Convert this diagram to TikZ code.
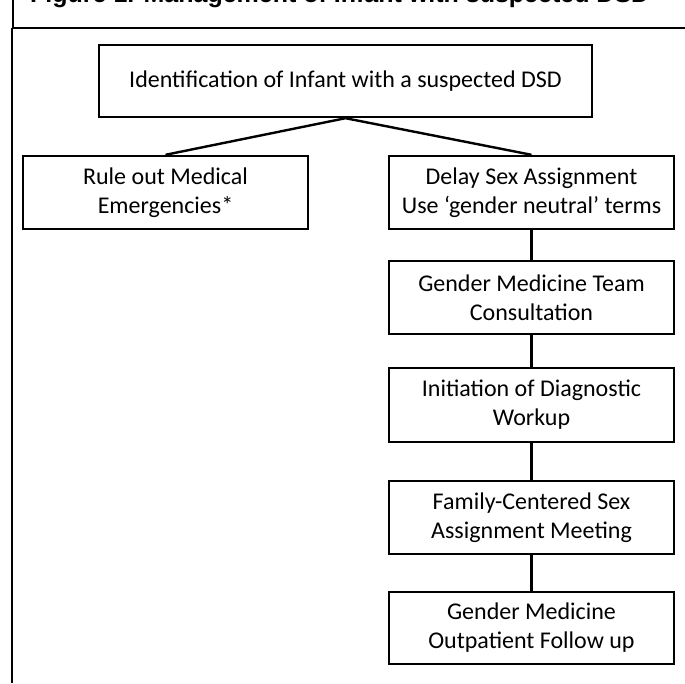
\documentclass[tikz,border=0pt]{standalone}
\usepackage{fontspec}
\setmainfont{Carlito}
\newfontfamily\headfont{Liberation Sans}
\begin{document}
\begin{tikzpicture}[x=1pt,y=-1pt,
  flowbox/.style={draw=black, line width=2.4pt, fill=white, align=center,
    minimum width=285pt, inner sep=0pt, font=\fontsize{24}{29}\selectfont},
  link/.style={draw=black, line width=2.4pt},
  frameline/.style={draw=black, line width=2pt}]
\useasboundingbox (0,0) rectangle (685,683);
\clip (0,0) rectangle (685,683);

% heading (runs off the top edge)
\node[anchor=base west, inner sep=0pt, font=\headfont\bfseries\fontsize{25}{30}\selectfont]
  (heading) at (30,2) {Figure 1. Management of Infant with suspected DSD};

% frame
\coordinate (frameTop) at (13,0);
\coordinate (frameJoin) at (13,28);
\coordinate (frameJoinLow) at (12,28);
\coordinate (frameBottom) at (12,683);
\coordinate (ruleRight) at (685,28);
\draw[frameline] (frameTop) -- (frameJoin);
\draw[frameline] (frameJoinLow) -- (frameBottom);
\draw[frameline] (frameJoinLow) -- (ruleRight);

% boxes
\node[flowbox, minimum width=493pt, minimum height=72pt] (ident) at (345.5,81)
  {Identification of Infant with a suspected DSD};
\node[flowbox, minimum height=73pt] (rule) at (165.5,192.5)
  {Rule out Medical\\Emergencies*};
\node[flowbox, minimum height=73pt] (delay) at (531.5,192.5)
  {Delay Sex Assignment\\Use ‘gender neutral’ terms};
\node[flowbox, minimum height=73pt] (team) at (531.5,297.5)
  {Gender Medicine Team\\Consultation};
\node[flowbox, minimum height=74pt] (workup) at (531.5,405)
  {Initiation of Diagnostic\\Workup};
\node[flowbox, minimum height=73pt] (meeting) at (531.5,517.5)
  {Family-Centered Sex\\Assignment Meeting};
\node[flowbox, minimum height=72pt] (follow) at (531.5,628)
  {Gender Medicine\\Outpatient Follow up};

% connectors
\draw[link] (ident.south) -- (rule.north);
\draw[link] (ident.south) -- (delay.north);
\draw[link] (delay.south) -- (team.north);
\draw[link] (team.south) -- (workup.north);
\draw[link] (workup.south) -- (meeting.north);
\draw[link] (meeting.south) -- (follow.north);
\end{tikzpicture}
\end{document}
